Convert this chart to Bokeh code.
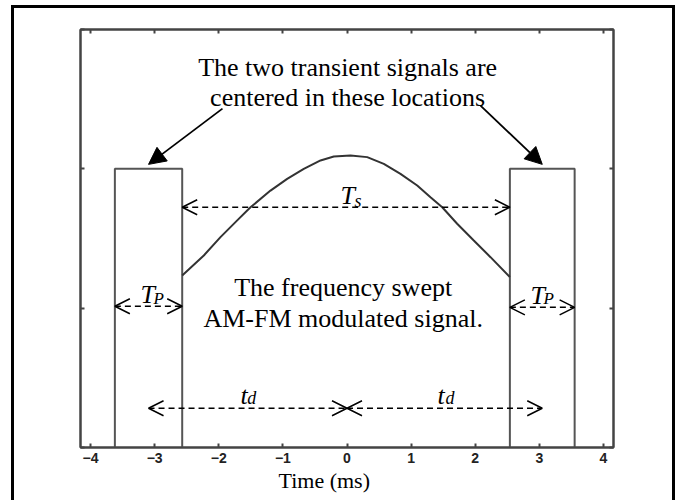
from bokeh.plotting import figure
from bokeh.models import (Range1d, LinearAxis, FixedTicker, Label, Arrow, OpenHead,
                          NormalHead, Title, CustomJSTickFormatter)
from bokeh.embed import file_html
from bokeh.resources import INLINE

# Transient pulses (start/end times in ms) and their amplitude
pulse_left = [-3.62, -2.57]
pulse_right = [2.54, 3.55]
pulse_height = 1.0

# Envelope of the swept AM-FM signal between the pulses
env_t = [-2.57, -2.233, -1.973, -1.712, -1.505, -1.193, -0.933, -0.674, -0.413, -0.206,
         0.055, 0.315, 0.574, 0.834, 1.095, 1.302, 1.485, 1.718, 1.977, 2.238, 2.54]
env_a = [0.617, 0.689, 0.755, 0.815, 0.862, 0.922, 0.964, 1.000, 1.030, 1.044,
         1.048, 1.042, 1.018, 0.982, 0.940, 0.898, 0.862, 0.803, 0.743, 0.683, 0.612]

x_ticks = [-4, -3, -2, -1, 0, 1, 2, 3, 4]
y_ticks = [0, 0.5, 1.0, 1.5]

FRAME = "#444444"
SERIF = "Liberation Serif"

# Outer black border drawn as CSS backgrounds behind a transparent canvas border
border_css = ("linear-gradient(#000,#000) 11px 5px / 3px 495px no-repeat, "
              "linear-gradient(#000,#000) 672px 5px / 3px 495px no-repeat, "
              "linear-gradient(#000,#000) 11px 5px / 664px 3px no-repeat, #ffffff")

p = figure(width=681, height=500, x_range=Range1d(-4.156, 4.156), y_range=Range1d(0, 1.5),
           output_backend="svg", toolbar_location=None,
           min_border_left=80, min_border_right=68, min_border_top=29, min_border_bottom=53,
           styles={"background": border_css})
p.grid.visible = False
p.outline_line_color = FRAME
p.outline_line_width = 2
p.background_fill_color = "white"
p.border_fill_color = None

blank = CustomJSTickFormatter(code="return ''")
p.xaxis.ticker = FixedTicker(ticks=x_ticks)
p.yaxis.ticker = FixedTicker(ticks=y_ticks)
p.yaxis.formatter = blank
p.add_layout(LinearAxis(ticker=FixedTicker(ticks=x_ticks), formatter=blank), "above")
p.add_layout(LinearAxis(ticker=FixedTicker(ticks=y_ticks), formatter=blank), "right")

for ax in p.axis:
    ax.axis_line_color = FRAME
    ax.axis_line_width = 2
    ax.major_tick_in = 4
    ax.major_tick_out = 0
    ax.major_tick_line_color = FRAME
    ax.major_tick_line_width = 2
    ax.minor_tick_line_color = None
    ax.major_label_text_font = "Liberation Sans"
    ax.major_label_text_font_style = "bold"
    ax.major_label_text_font_size = "14px"
    ax.major_label_text_color = "#222222"
    ax.major_label_standoff = 5

p.add_layout(Title(text="Time (ms)", align="left", offset=198, standoff=0,
                   text_font=SERIF, text_font_size="22px", text_font_style="normal",
                   text_color="black"), "below")

# Rectangular transient pulses
def step(edges):
    return [edges[0], edges[0], edges[1], edges[1]], [0, pulse_height, pulse_height, 0]

lx, ly = step(pulse_left)
rx, ry = step(pulse_right)
p.multi_line(xs=[lx, rx], ys=[ly, ry], line_color="#555555", line_width=2)

# Swept signal envelope
p.line(env_t, env_a, line_color="#333333", line_width=2)

c_left = sum(pulse_left) / 2
c_right = sum(pulse_right) / 2

# Annotation texts
def txt(x, y, s, size="26px", style="normal", align="center"):
    p.add_layout(Label(x=x, y=y, text=s, text_font=SERIF, text_font_size=size,
                       text_font_style=style, text_align=align,
                       text_baseline="alphabetic", text_color="black"))

txt(0.01, 1.364, "The two transient signals are")
txt(0.01, 1.256, "centered in these locations")
txt(-0.06, 0.574, "The frequency swept")
txt(-0.06, 0.463, "AM-FM modulated signal.")

# T_s, T_P and t_d symbols
txt(-0.10, 0.904, "T", style="italic", align="left")
txt(0.117, 0.886, "s", size="18px", style="italic", align="left")
txt(-3.22, 0.549, "T", style="italic", align="left")
txt(-3.018, 0.535, "P", size="17px", style="italic", align="left")
txt(2.862, 0.545, "T", style="italic", align="left")
txt(3.064, 0.535, "P", size="17px", style="italic", align="left")
txt(-1.66, 0.187, "t", style="italic", align="left")
txt(-1.556, 0.176, "d", size="18px", style="italic", align="left")
txt(1.411, 0.187, "t", style="italic", align="left")
txt(1.536, 0.176, "d", size="18px", style="italic", align="left")

# Dashed double-headed arrows
def dbl(x0, x1, y):
    p.add_layout(Arrow(x_start=x0, y_start=y, x_end=x1, y_end=y,
                       start=OpenHead(size=15, line_width=1.5, line_color="black"),
                       end=OpenHead(size=15, line_width=1.5, line_color="black"),
                       line_color="black", line_width=1.5, line_dash="6 4"))

dbl(pulse_left[1], pulse_right[0], 0.862)
dbl(pulse_left[0], pulse_left[1], 0.507)
dbl(pulse_right[0], pulse_right[1], 0.503)
dbl(c_left, 0, 0.141)
dbl(0, c_right, 0.141)

# Solid pointers to the pulse centres
for xs, ys, xe in [(-1.942, 1.216, c_left), (2.082, 1.227, c_right)]:
    p.add_layout(Arrow(x_start=xs, y_start=ys, x_end=xe, y_end=pulse_height + 0.016,
                       end=NormalHead(size=17, fill_color="black", line_color="black"),
                       line_color="black", line_width=1.8))

open("out.html", "w").write(file_html(p, INLINE))
